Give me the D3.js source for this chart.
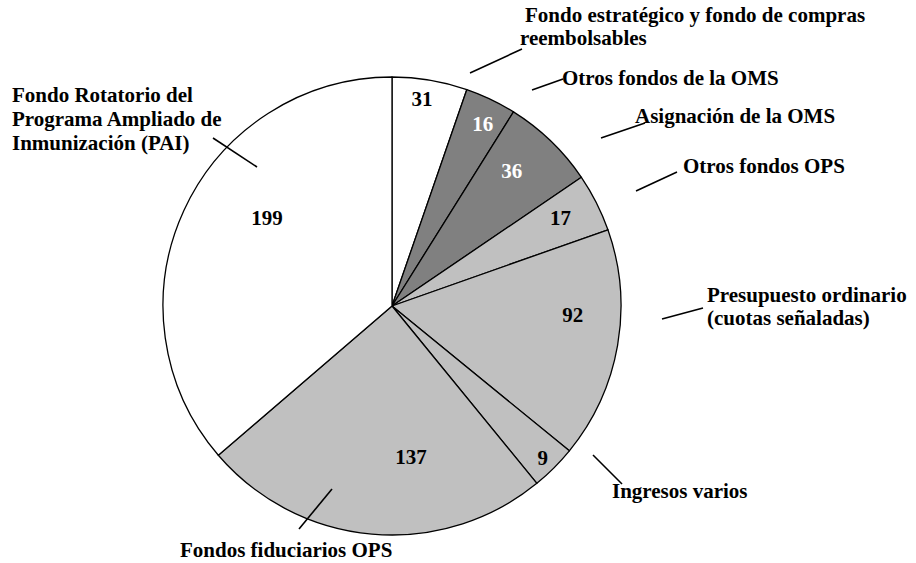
<!DOCTYPE html>
<html>
<head>
<meta charset="utf-8">
<script src="https://cdn.jsdelivr.net/npm/d3@7/dist/d3.min.js"></script>
<style>
  body { margin: 0; background: #fff; }
</style>
</head>
<body>
<svg width="916" height="563"></svg>
<script>
// categories, clockwise from 12 o'clock
var categories = [
  "Fondo estratégico y fondo de compras reembolsables",
  "Otros fondos de la OMS",
  "Asignación de la OMS",
  "Otros fondos OPS",
  "Presupuesto ordinario (cuotas señaladas)",
  "Ingresos varios",
  "Fondos fiduciarios OPS",
  "Fondo Rotatorio del Programa Ampliado de Inmunización (PAI)"
];
// amounts printed on the slices
var amounts = [31, 16, 36, 17, 92, 9, 137, 199];
// share of the disc each slice takes as drawn (percent)
var shares = [5.3, 3.6, 6.6, 4.1, 16.3, 3.2, 24.6, 36.3];
var fills = ["#ffffff", "#808080", "#808080", "#c0c0c0", "#c0c0c0", "#c0c0c0", "#c0c0c0", "#ffffff"];
var numColors = ["#000", "#fff", "#fff", "#000", "#000", "#000", "#000", "#000"];

// where the numbers sit: [angle in degrees, distance as part of radius]
var numPos = [[8.2,.917],[26.4,.891],[41.4,.79],[62.4,.83],[92.8,.79],[135.2,.934],[172.8,.664],[305.2,.668]];

// callout text lines (x, baseline) and leader lines
var callouts = [
  {lines: [[525,22,"Fondo estratégico y fondo de compras"],[520,45,"reembolsables"]], lead: [470,73,522,49]},
  {lines: [[562,85,"Otros fondos de la OMS"]], lead: [532,90,563,79]},
  {lines: [[635,123,"Asignación de la OMS"]], lead: [601,138,645,123]},
  {lines: [[683,173,"Otros fondos OPS"]], lead: [636,191,677,172]},
  {lines: [[707,302,"Presupuesto ordinario"],[707,325,"(cuotas señaladas)"]], lead: [662,319,703,308]},
  {lines: [[612,498,"Ingresos varios"]], lead: [593,455,622,484]},
  {lines: [[180,557,"Fondos fiduciarios OPS"]], lead: [332,489,299,529]},
  {lines: [[12,102,"Fondo Rotatorio del"],[12,126,"Programa Ampliado de"],[12,150,"Inmunización (PAI)"]], lead: [213,138,257,167]}
];

var svg = d3.select("svg")
  .attr("font-family", "'Liberation Serif', 'Times New Roman', Times, serif")
  .attr("font-weight", "bold");
var cx = 392, cy = 306, r = 229;

var pie = d3.pie().sort(null).value(function(d) { return d; });
var arcs = pie(shares);
var arc = d3.arc().innerRadius(0).outerRadius(r);

var g = svg.append("g").attr("transform", "translate(" + cx + "," + cy + ")");

g.selectAll("path").data(arcs).enter()
  .append("path")
  .attr("d", arc)
  .attr("fill", function(d, i) { return fills[i]; })
  .attr("stroke", "#000")
  .attr("stroke-width", 1.3)
  .attr("stroke-linejoin", "round");

g.selectAll("text.num").data(amounts).enter()
  .append("text")
  .attr("class", "num")
  .attr("x", function(d, i) { var a = numPos[i][0] * Math.PI / 180; return Math.sin(a) * numPos[i][1] * r; })
  .attr("y", function(d, i) { var a = numPos[i][0] * Math.PI / 180; return -Math.cos(a) * numPos[i][1] * r; })
  .attr("dy", "0.35em")
  .attr("text-anchor", "middle")
  .attr("font-size", 21)
  .attr("fill", function(d, i) { return numColors[i]; })
  .text(function(d) { return d; });

var co = svg.selectAll("g.callout").data(callouts).enter().append("g").attr("class", "callout");

co.append("line")
  .attr("x1", function(d) { return d.lead[0]; })
  .attr("y1", function(d) { return d.lead[1]; })
  .attr("x2", function(d) { return d.lead[2]; })
  .attr("y2", function(d) { return d.lead[3]; })
  .attr("stroke", "#000")
  .attr("stroke-width", 1.6);

co.selectAll("text").data(function(d) { return d.lines; }).enter()
  .append("text")
  .attr("x", function(d) { return d[0]; })
  .attr("y", function(d) { return d[1]; })
  .attr("font-size", 21)
  .attr("fill", "#000")
  .text(function(d) { return d[2]; });
</script>
</body>
</html>
